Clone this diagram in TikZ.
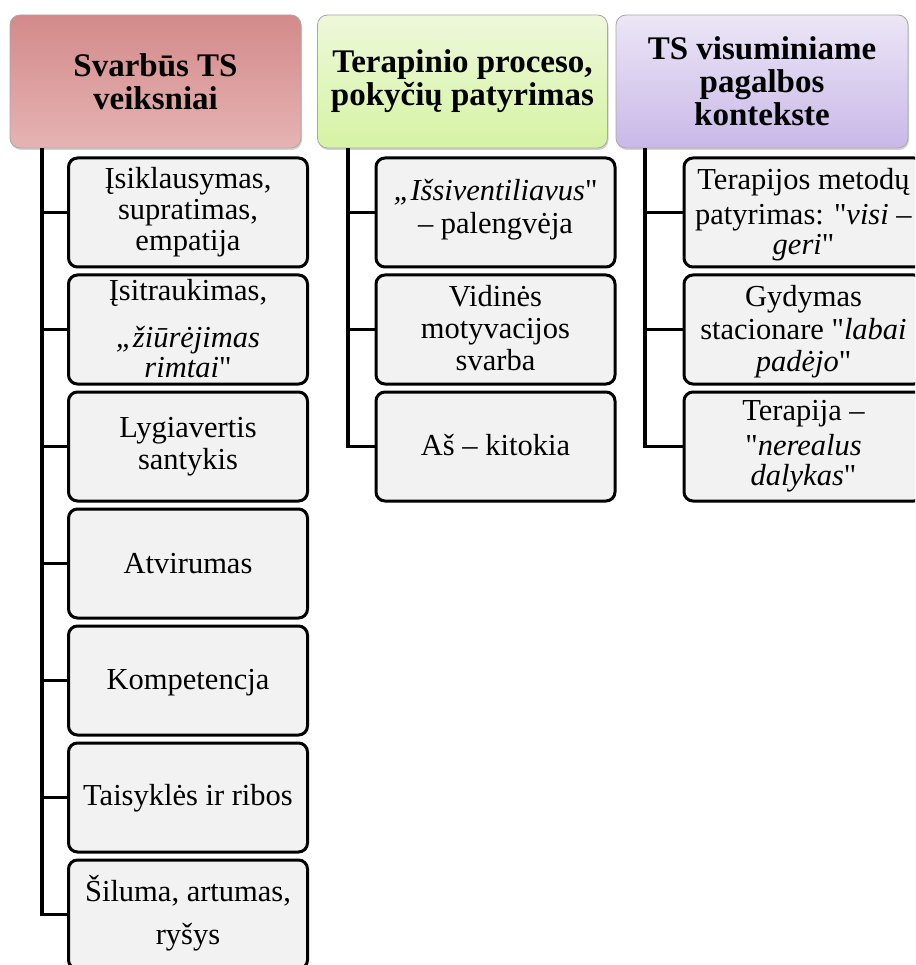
\documentclass[tikz,border=0pt]{standalone}
\usepackage{fontspec}
\setmainfont{Liberation Serif}[Ligatures=TeXOff]
\usetikzlibrary{shadows}
\definecolor{redtop}{HTML}{D38A8A}
\definecolor{redbot}{HTML}{E6B3B3}
\definecolor{greentop}{HTML}{EEF8DA}
\definecolor{greenbot}{HTML}{D6F3A4}
\definecolor{purpletop}{HTML}{ECE6F6}
\definecolor{purplebot}{HTML}{C9B8E8}
\definecolor{kidfill}{HTML}{F2F2F2}
\definecolor{hdrline}{HTML}{A8A8A8}
% box node + text node placed in its centre
\newcommand\kidbox[5]{%
  \node[kid] (#1) at (#2,#3) {};
  \node[kidtxt, yshift=#4] (#1t) at (#1.center) {#5};}
\begin{document}
\begin{tikzpicture}[x=1pt,y=-1pt,
  hdr/.style={rounded corners=10pt, draw=hdrline, line width=0.8pt,
    minimum width=291pt, minimum height=133pt, align=center, inner sep=0pt,
    font=\bfseries\fontsize{33}{33}\selectfont,
    drop shadow={shadow xshift=1pt, shadow yshift=-2pt, opacity=0.35}},
  kid/.style={rounded corners=9pt, draw=black, line width=3pt, fill=kidfill,
    minimum width=239pt, minimum height=109pt, inner sep=0pt},
  kidtxt/.style={align=center, inner sep=0pt, text=black,
    font=\fontsize{30.5}{29}\selectfont},
  conn/.style={draw=black, line width=3.2pt}]
\useasboundingbox (0,0) rectangle (915,965);
\clip (0,0) rectangle (915,965);
\fill[white] (0,0) rectangle (915,965);

% headers
\node[hdr, top color=redtop, bottom color=redbot] (h1) at (155.5,81.5) {Svarbūs TS\\veiksniai};
\node[hdr, top color=greentop, bottom color=greenbot, minimum width=290pt] (h2) at (462.5,81.5) {Terapinio proceso,\\pokyčių patyrimas};
\node[hdr, top color=purpletop, bottom color=purplebot, minimum width=292pt] (h3) at (762,81.5) {TS visuminiame\\pagalbos\\kontekste};

% spine coordinates
\coordinate (s1) at (42,0);
\coordinate (s2) at (348,0);
\coordinate (s3) at (645,0);

% column 1
\kidbox{a1}{188}{212.5}{0pt}{Įsiklausymas,\\[2pt]supratimas,\\[2pt]empatija}
\kidbox{a2}{188}{329.5}{1pt}{Įsitraukimas,\\[18pt]\textit{„žiūrėjimas}\\[1pt]\textit{rimtai}"}
\kidbox{a3}{188}{446.5}{0pt}{Lygiavertis\\[3pt]santykis}
\kidbox{a4}{188}{563.5}{0pt}{Atvirumas}
\kidbox{a5}{188}{680.5}{-2pt}{Kompetencja}
\kidbox{a6}{188}{797.5}{-1pt}{Taisyklės ir ribos}
\kidbox{a7}{188}{914.5}{1.5pt}{Šiluma, artumas,\\[14pt]ryšys}

% column 2
\kidbox{b1}{495.5}{212.5}{3pt}{\textit{„Išsiventiliavus}"\\[4pt]– palengvėja}
\kidbox{b2}{495.5}{329.5}{1.5pt}{Vidinės\\[3pt]motyvacijos\\[3pt]svarba}
\kidbox{b3}{495.5}{446.5}{1pt}{Aš – kitokia}

% column 3
\kidbox{c1}{803.5}{212.5}{-2.5pt}{Terapijos metodų\\[6pt]patyrimas: "\textit{visi –}\\[1pt]\textit{geri}"}
\kidbox{c2}{803.5}{329.5}{-2pt}{Gydymas\\[4pt]stacionare "\textit{labai}\\[3pt]\textit{padėjo}"}
\kidbox{c3}{803.5}{446.5}{0pt}{Terapija –\\[6pt]"\textit{nerealus}\\[1pt]\textit{dalykas}"}

% connectors
\foreach \k in {a1,a2,a3,a4,a5,a6,a7}
  \draw[conn] (h1.south -| s1) |- (\k.west);
\foreach \k in {b1,b2,b3}
  \draw[conn] (h2.south -| s2) |- (\k.west);
\foreach \k in {c1,c2,c3}
  \draw[conn] (h3.south -| s3) |- (\k.west);
\end{tikzpicture}
\end{document}
